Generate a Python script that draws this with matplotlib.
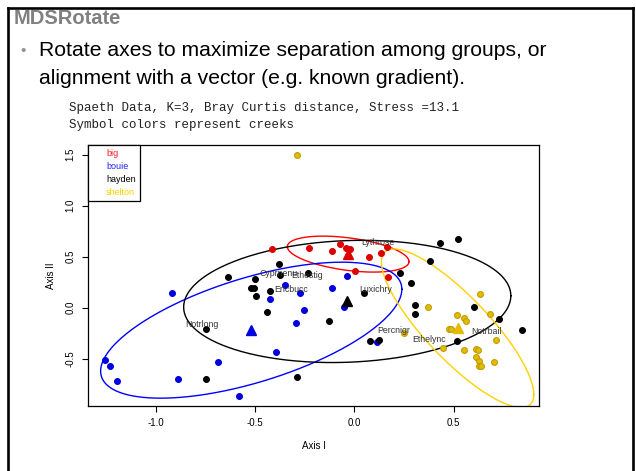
import numpy as np
import matplotlib.pyplot as plt
from matplotlib.lines import Line2D

plt.rcParams["font.family"] = ["Liberation Sans", "DejaVu Sans"]
plt.rcParams["axes.unicode_minus"] = False

# NMDS site scores by creek
big_x = [-0.416, -0.229, -0.112, -0.073, -0.043, -0.023, 0.075, 0.132, 0.165, 0.003, 0.170]
big_y = [0.573, 0.582, 0.553, 0.622, 0.590, 0.573, 0.494, 0.536, 0.592, 0.360, 0.304]

bouie_x = [-0.918, -0.428, -0.349, -0.276, -0.253, -0.296, -0.394, -0.112, -0.686,
           -0.888, -0.582, -1.255, -1.232, -1.195, -0.039, -0.054, 0.113]
bouie_y = [0.141, 0.082, 0.225, 0.141, -0.020, -0.152, -0.436, 0.198, -0.535,
           -0.702, -0.866, -0.516, -0.572, -0.722, 0.311, 0.009, -0.333]

hayden_x = [-0.636, -0.499, -0.379, -0.375, -0.235, -0.519, -0.505, -0.425, -0.495,
            -0.439, -0.129, -0.747, -0.746, -0.288, 0.047, 0.078, 0.121, 0.231,
            0.283, 0.306, 0.306, 0.380, 0.432, 0.520, 0.601, 0.727, 0.844, 0.518]
hayden_y = [0.298, 0.278, 0.428, 0.321, 0.337, 0.190, 0.190, 0.164, 0.110,
            -0.044, -0.132, -0.209, -0.702, -0.681, 0.144, -0.325, -0.315, 0.345,
            0.240, 0.025, -0.065, 0.461, 0.637, 0.674, 0.009, -0.111, -0.221, -0.326]

shelton_x = [-0.288, 0.631, 0.371, 0.517, 0.554, 0.561, 0.682, 0.475, 0.485, 0.248,
             0.714, 0.447, 0.554, 0.610, 0.621, 0.612, 0.629, 0.626, 0.638, 0.703]
shelton_y = [1.494, 0.134, 0.009, -0.072, -0.099, -0.135, -0.059, -0.212, -0.211, -0.246,
             -0.317, -0.400, -0.417, -0.407, -0.410, -0.488, -0.520, -0.572, -0.572, -0.530]

# species scores
species = ["Lythrose", "Cyprnenu", "Ethestig", "Ericbucc", "Luxichry",
           "Notrlong", "Percnigr", "Ethelync", "Notrbail"]
species_x = [0.118, -0.385, -0.237, -0.320, 0.108, -0.768, 0.199, 0.375, 0.665]
species_y = [0.644, 0.340, 0.311, 0.174, 0.174, -0.160, -0.219, -0.307, -0.238]

groups = ["big", "bouie", "hayden", "shelton"]
xs = [big_x, bouie_x, hayden_x, shelton_x]
ys = [big_y, bouie_y, hayden_y, shelton_y]
pt_colors = ["#dd0000", "#0000dd", "black", "#e3bc00"]
edge_colors = ["#dd0000", "#0000dd", "black", "#c29c00"]
line_colors = ["#ff0000", "#0000ff", "black", "#ffd200"]
legend_colors = ["#ff2020", "#2020ff", "black", "#ffd000"]


def sd_ellipse(x, y, scale=1.73, n=300):
    x = np.asarray(x)
    y = np.asarray(y)
    chol = np.linalg.cholesky(np.cov(x, y))
    t = np.linspace(0, 2 * np.pi, n)
    pts = scale * chol @ np.vstack([np.cos(t), np.sin(t)])
    return x.mean() + pts[0], y.mean() + pts[1]


W, H = 636, 471
fig = plt.figure(figsize=(W / 100, H / 100), dpi=100)
fig.patch.set_facecolor("white")

# slide frame
fig.add_artist(Line2D([7.5 / W, 7.5 / W], [0, 1 - 7.5 / H], color="black", lw=1.9))
fig.add_artist(Line2D([7.5 / W, 633 / W], [1 - 7.5 / H, 1 - 7.5 / H], color="black", lw=1.9))
fig.add_artist(Line2D([633 / W, 633 / W], [0, 1 - 7.5 / H], color="black", lw=1.9))

fig.text(14 / W, 1 - 18 / H, "MDSRotate", fontsize=14.5, fontweight="bold",
         color="#808080", va="center", ha="left")
fig.text(20 / W, 1 - 51 / H, "•", fontsize=11, color="#909090", va="center")
fig.text(39 / W, 1 - 51 / H, "Rotate axes to maximize separation among groups, or",
         fontsize=15.2, va="center", ha="left")
fig.text(39 / W, 1 - 78 / H, "alignment with a vector (e.g. known gradient).",
         fontsize=15.2, va="center", ha="left")
fig.text(69 / W, 1 - 108 / H, "Spaeth Data, K=3, Bray Curtis distance, Stress =13.1",
         fontsize=9, family="Liberation Mono", va="center", ha="left", color="#222222")
fig.text(69 / W, 1 - 125 / H, "Symbol colors represent creeks",
         fontsize=9, family="Liberation Mono", va="center", ha="left", color="#222222")

ax = fig.add_axes([88 / W, 1 - 406 / H, (539 - 88) / W, (406 - 145) / H])

for x, y, lc in zip(xs, ys, line_colors):
    ex, ey = sd_ellipse(x, y)
    ax.plot(ex, ey, color=lc, lw=1.0, zorder=2)

for x, y, pc, ec in zip(xs, ys, pt_colors, edge_colors):
    ax.plot(x, y, "o", ms=4.2, mfc=pc, mec=ec, mew=0.8, ls="none", zorder=3)
    ax.plot(np.mean(x), np.mean(y), "^", ms=7, color=pc, ls="none", zorder=3)

for name, sx, sy in zip(species, species_x, species_y):
    ax.text(sx, sy, name, fontsize=6.3, color="#333333", ha="center", va="center", zorder=4)

ax.set_xlim(-1.3426, 0.9295)
ax.set_ylim(-0.9637, 1.595)
ax.set_xticks([-1.0, -0.5, 0.0, 0.5])
ax.set_yticks([-0.5, 0.0, 0.5, 1.0, 1.5])
ax.tick_params(labelsize=7, length=4, width=0.8, pad=5, colors="black")
for lab in ax.get_yticklabels():
    lab.set_rotation(90)
    lab.set_va("center")
for s in ax.spines.values():
    s.set_linewidth(0.9)
ax.set_xlabel("Axis I", fontsize=7, labelpad=9)
ax.set_ylabel("Axis II", fontsize=7, labelpad=7)

handles = [Line2D([], [], ls="none") for _ in groups]
leg = ax.legend(handles, groups, loc="upper left", borderaxespad=0, fontsize=6.5,
                handlelength=1.2, handletextpad=0.35, borderpad=0.45, labelspacing=0.45,
                fancybox=False, edgecolor="black", framealpha=1, labelcolor=legend_colors)
leg.get_frame().set_linewidth(0.9)

fig.savefig("out.png", dpi=100)
